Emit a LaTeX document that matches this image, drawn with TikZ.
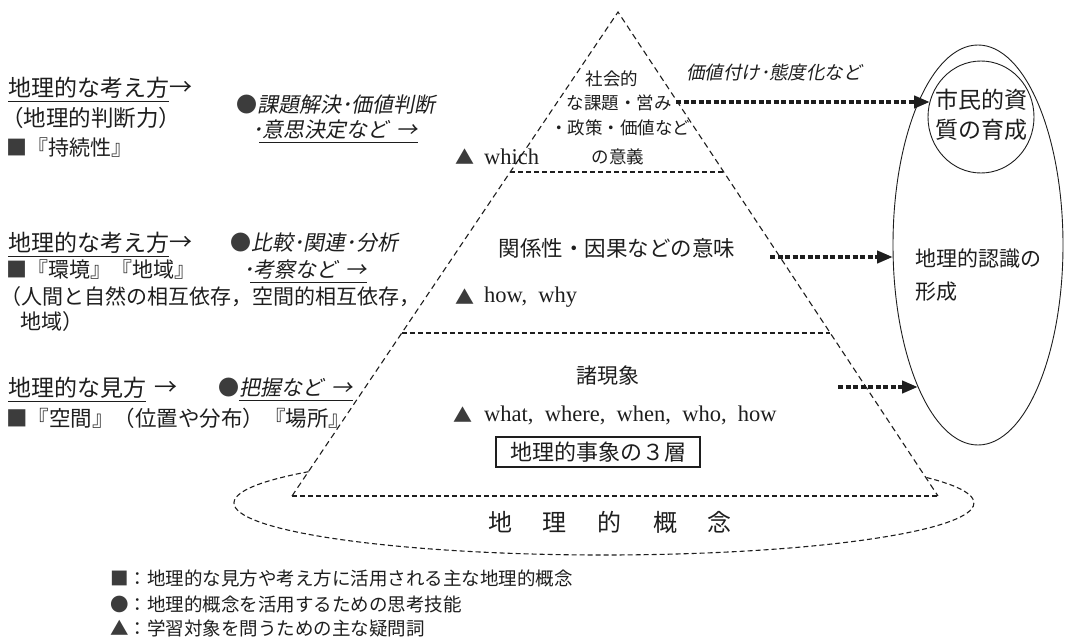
\documentclass[tikz,border=0pt]{standalone}
\usepackage{fontspec}
\setmainfont{Liberation Serif}
\newfontfamily\jp{Noto Sans CJK JP}
\newfontfamily\jpi[FakeSlant=0.2]{Noto Sans CJK JP}
\usetikzlibrary{arrows.meta,shapes.geometric}
\definecolor{ink}{HTML}{1E1E1E}
\definecolor{markc}{HTML}{3C3C3C}
\newcommand\fsz[1]{\fontsize{#1pt}{#1pt}\selectfont}
\newcommand\mk[1]{\textcolor{markc}{#1}}
\newcommand\myul[2][0pt]{\draw[uline] ([xshift=#1,yshift=-3pt]#2.south west) -- ([yshift=-3pt]#2.south east);}
\begin{document}
\begin{tikzpicture}[x=1pt,y=1pt,
  every node/.style={inner sep=0pt, text=ink},
  jp/.style={font=\jp\fsz{#1}},
  jpi/.style={font=\jpi\fsz{#1}},
  lat/.style={font=\rmfamily\fsz{#1}},
  pyr/.style={draw=ink, line width=1.1pt, dash pattern=on 6pt off 4pt},
  hl/.style={draw=ink, line width=1.1pt, dash pattern=on 5pt off 3pt},
  flow/.style={draw=ink, line width=4.5pt, dash pattern=on 5pt off 2.5pt, -{Triangle[length=16pt,width=12pt]}},
  solidline/.style={draw=ink, line width=0.9pt},
  uline/.style={draw=ink, line width=1pt},
]
\fill[white] (0,0) rectangle (1066,-637);
\useasboundingbox (0,0) rectangle (1066,-637);

% ---------------- pyramid ----------------
\coordinate (apex) at (618,-12);
\coordinate (bl) at (292,-496);
\coordinate (br) at (938,-496);
\draw[pyr] (bl) -- (apex) -- (br);
\path (apex) -- (bl) coordinate[pos=0.3306] (lA) coordinate[pos=0.6632] (lB);
\path (apex) -- (br) coordinate[pos=0.3306] (rA) coordinate[pos=0.6632] (rB);
\draw[hl] (lA) -- (rA);
\draw[hl] (lB) -- (rB);
\draw[hl] (bl) -- (br);

% geographic concepts ellipse (outside part only)
\coordinate (gc) at (604,-503);
\draw[hl] (gc) ++(143:370pt and 52pt) arc[start angle=143, end angle=390, x radius=370pt, y radius=52pt];
\node[jp=24] (geo) at (610,-522) {地\hspace{31pt}理\hspace{31pt}的\hspace{31pt}概\hspace{31pt}念};

% top layer
\node[jp=17.5] (t1) at (612,-79) {社会的};
\node[jp=17.5] (t2) at (619,-103) {な課題・営み};
\node[jp=17.5] (t3) at (620,-128) {・政策・価値など};
\node[jp=17.5] (t4) at (618,-157) {の意義};
\node[jp=19, text=markc] (tri1) at (465,-157) {▲};
\node[lat=22.5, anchor=west] (wh1) at (484,-157) {which};

% middle layer
\node[jp=21.5] (m1) at (617,-248) {関係性・因果などの意味};
\node[jp=19, text=markc] (tri2) at (465,-297) {▲};
\node[lat=22.5, anchor=west] (wh2) at (484,-297) {how,\hspace{0.5em}why};

% bottom layer
\node[jp=21] (b0) at (608,-376) {諸現象};
\node[jp=19, text=markc] (tri3) at (463,-415) {▲};
\node[lat=22.5, anchor=west] (wh3) at (484,-415) {what,\hspace{0.5em}where,\hspace{0.5em}when,\hspace{0.5em}who,\hspace{0.5em}how};
\node[jp=22, draw=ink, line width=1.1pt, inner xsep=14pt, minimum height=30pt] (box) at (598,-452) {地理的事象の３層};

% ---------------- right side ----------------
\node[draw=ink, line width=0.9pt, ellipse, minimum width=170pt, minimum height=400pt] (big) at (978,-245) {};
\node[draw=ink, line width=0.9pt, ellipse, minimum width=106pt, minimum height=112pt] (cir) at (981,-117) {};
\node[jp=23] (c1) at (981,-100) {市民的資};
\node[jp=23] (c2) at (981,-130) {質の育成};
\node[jp=21, anchor=west] (r1) at (915,-259) {地理的認識の};
\node[jp=21, anchor=west] (r2) at (915,-292) {形成};

\node[jpi=18.5] (lab) at (774,-72) {価値付け･態度化など};

\coordinate (a1s) at (676,-102);
\coordinate (a1e) at (930,-102);
\coordinate (a2s) at (770,-257);
\coordinate (a2e) at (893,-257);
\coordinate (a3s) at (838,-387);
\coordinate (a3e) at (918,-387);
\draw[flow] (a1s) -- (a1e);
\draw[flow] (a2s) -- (a2e);
\draw[flow] (a3s) -- (a3e);

% ---------------- left column ----------------
\node[jp=23, anchor=west] (h1) at (8,-88) {地理的な考え方};
\node[jp=23, anchor=west] (h1r) at (h1.east) {→};
\myul{h1}
\node[jp=22.5, anchor=west] (j1) at (1,-118) {（地理的判断力）};
\node[jp=21, anchor=west] (s1) at (6,-148) {\mk{■}『持続性』};
\node[jpi=21, anchor=west] (bl1) at (236,-105) {{\jp\mk{●}}課題解決･価値判断};
\node[jpi=21, anchor=west] (bl2) at (252,-130) {･意思決定など\hspace{8pt}→};
\myul[7pt]{bl2}

\node[jp=23, anchor=west] (h2) at (8,-243) {地理的な考え方};
\node[jp=23, anchor=west] (h2r) at (h2.east) {→};
\myul{h2}
\node[jpi=21, anchor=west] (bl3) at (230,-243) {{\jp\mk{●}}比較･関連･分析};
\node[jp=21, anchor=west] (s2) at (6,-270) {\mk{■}『環境』『地域』};
\node[jpi=21, anchor=west] (bl4) at (243,-270) {･考察など\hspace{8pt}→};
\myul[7pt]{bl4}
\node[jp=21, anchor=west] (p1) at (0,-297) {（人間と自然の相互依存，空間的相互依存，};
\node[jp=21, anchor=west] (p2) at (20,-322) {地域）};

\node[jp=23, anchor=west] (h3) at (8,-388) {地理的な見方};
\node[jp=23, anchor=west] (h3r) at ([xshift=8pt]h3.east) {→};
\myul{h3}
\node[jp=21, text=markc, anchor=west] (bl5d) at (218,-388) {●};
\node[jpi=21, anchor=west] (bl5) at (bl5d.east) {把握など\hspace{8pt}→};
\myul{bl5}
\node[jp=21.5, anchor=west] (s3) at (6,-418) {\mk{■}『空間』（位置や分布）『場所』};

% ---------------- legend ----------------
\node[jp=18.5, anchor=west] (lg1) at (110,-578) {\mk{■}：地理的な見方や考え方に活用される主な地理的概念};
\node[jp=18.5, anchor=west] (lg2) at (110,-604) {\mk{●}：地理的概念を活用するための思考技能};
\node[jp=18.5, anchor=west] (lg3) at (110,-628) {\mk{▲}：学習対象を問うための主な疑問詞};
\end{tikzpicture}
\end{document}
